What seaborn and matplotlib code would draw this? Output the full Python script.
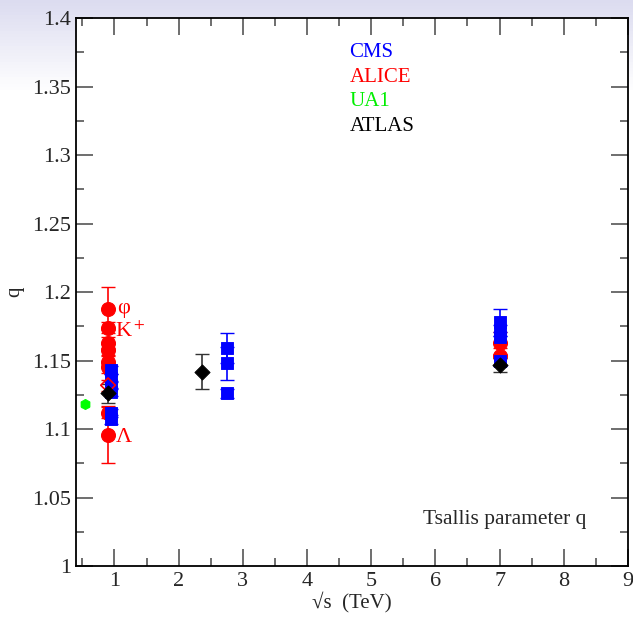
import numpy as np
import pandas as pd
import matplotlib.pyplot as plt
import seaborn as sns

sns.set_style('ticks')
plt.rcParams['font.family'] = ['Liberation Serif', 'DejaVu Serif']
plt.rcParams['mathtext.fontset'] = 'stix'

# CMS data
cms_x = [0.94, 0.94, 0.94, 0.94, 0.94, 0.94, 2.76, 2.76, 2.76, 7.0, 7.0, 7.0, 7.0]
cms_q = [1.143, 1.137, 1.132, 1.127, 1.112, 1.107, 1.159, 1.148, 1.126, 1.178, 1.172, 1.167, 1.150]
cms_err = [0.003, 0.003, 0.003, 0.003, 0.003, 0.003, 0.011, 0.012, 0.003, 0.010, 0.004, 0.004, 0.004]

# ALICE data
alice_x = [0.9, 0.9, 0.9, 0.9, 0.9, 0.9, 0.9, 0.9, 7.0, 7.0]
alice_q = [1.188, 1.174, 1.163, 1.158, 1.149, 1.145, 1.112, 1.096, 1.163, 1.153]
alice_err = [0.016, 0.004, 0.004, 0.004, 0.004, 0.004, 0.004, 0.021, 0.008, 0.006]

# ALICE open diamond point
alice_open_x = [0.9]
alice_open_q = [1.132]
alice_open_err = [0.004]

# UA1 data
ua1_x = [0.54]
ua1_q = [1.118]
ua1_err = [0.002]

# ATLAS data
atlas_x = [0.9, 2.36, 7.0]
atlas_q = [1.126, 1.142, 1.147]
atlas_err = [0.007, 0.013, 0.005]

fig = plt.figure(figsize=(6.33, 6.19), dpi=100)

# background gradient (lavender to white at top)
bg = fig.add_axes([0, 0, 1, 1], zorder=-10)
grad = np.ones((200, 2))
grad[:30, :] = np.linspace(0, 1, 30)[:, None]
bg.imshow(grad, aspect='auto', cmap=sns.blend_palette(['#dcdcf0', '#ffffff'], as_cmap=True),
          extent=[0, 1, 0, 1], vmin=0, vmax=1)
bg.set_axis_off()

ax = fig.add_axes([0.12, 0.0856, 0.872, 0.885])
ax.set_facecolor('white')

cms = pd.DataFrame({'x': cms_x, 'q': cms_q})
alice = pd.DataFrame({'x': alice_x, 'q': alice_q})
ua1 = pd.DataFrame({'x': ua1_x, 'q': ua1_q})
atlas = pd.DataFrame({'x': atlas_x, 'q': atlas_q})

ax.errorbar(alice_x, alice_q, yerr=alice_err, fmt='none', ecolor='red', capsize=5, elinewidth=1.2, zorder=2)
ax.errorbar(cms_x, cms_q, yerr=cms_err, fmt='none', ecolor='blue', capsize=5, elinewidth=1.2, zorder=3)
ax.errorbar(ua1_x, ua1_q, yerr=ua1_err, fmt='none', ecolor='lime', capsize=3, elinewidth=1.2, zorder=3)
ax.errorbar(atlas_x, atlas_q, yerr=atlas_err, fmt='none', ecolor='#333333', capsize=5, elinewidth=1.2, zorder=4)
ax.errorbar(alice_open_x, alice_open_q, yerr=alice_open_err, fmt='none', ecolor='red', capsize=5, elinewidth=1.2, zorder=4)

sns.scatterplot(data=alice, x='x', y='q', ax=ax, color='red', marker='o', s=100, edgecolor='red', zorder=3)
sns.scatterplot(data=cms, x='x', y='q', ax=ax, color='blue', marker='s', s=65, edgecolor='blue', zorder=4)
sns.scatterplot(data=ua1, x='x', y='q', ax=ax, color='lime', marker='h', s=55, edgecolor='lime', zorder=4)
sns.scatterplot(x=alice_open_x, y=alice_open_q, ax=ax, marker='D', s=55, facecolor='none', edgecolor='red', linewidth=1.2, zorder=5)
sns.scatterplot(data=atlas, x='x', y='q', ax=ax, color='black', marker='D', s=60, edgecolor='black', zorder=6)

# particle labels
ax.text(1.04, 1.188, 'φ', color='red', fontsize=16, va='center', ha='left')
ax.text(1.01, 1.171, r'K$^+$', color='red', fontsize=16, va='center', ha='left')
ax.text(1.02, 1.094, 'Λ', color='red', fontsize=16, va='center', ha='left')

# legend as coloured text
for lab, col, yy in [('CMS', 'blue', 1.375), ('ALICE', 'red', 1.357), ('UA1', '#00ee00', 1.339), ('ATLAS', 'black', 1.321)]:
    ax.text(4.66, yy, lab, color=col, fontsize=15, ha='left', va='center')

ax.text(7.08, 1.034, 'Tsallis parameter q', fontsize=15.5, ha='center', va='center')

ax.set_xlim(0.4, 9)
ax.set_ylim(1, 1.4)
ax.set_xticks(range(1, 10))
ax.set_xticks(np.arange(0.5, 9.0, 0.5), minor=True)
ax.set_yticks(np.arange(1, 1.401, 0.05))
ax.set_yticks(np.arange(1, 1.401, 0.025), minor=True)
ax.set_yticklabels(['1', '1.05', '1.1', '1.15', '1.2', '1.25', '1.3', '1.35', '1.4'])
ax.tick_params(which='both', direction='in', top=True, right=True, labelsize=16, color='#555555')
ax.tick_params(axis='x', pad=4)
ax.tick_params(which='major', length=12, width=1.2)
ax.tick_params(which='minor', length=6, width=1.2)
for sp in ax.spines.values():
    sp.set_linewidth(1.3)
    sp.set_color('black')

ax.set_xlabel('√s  (TeV)', fontsize=15, labelpad=1)
ax.set_ylabel('q', fontsize=15, labelpad=6)

fig.savefig('out.png', dpi=100)
